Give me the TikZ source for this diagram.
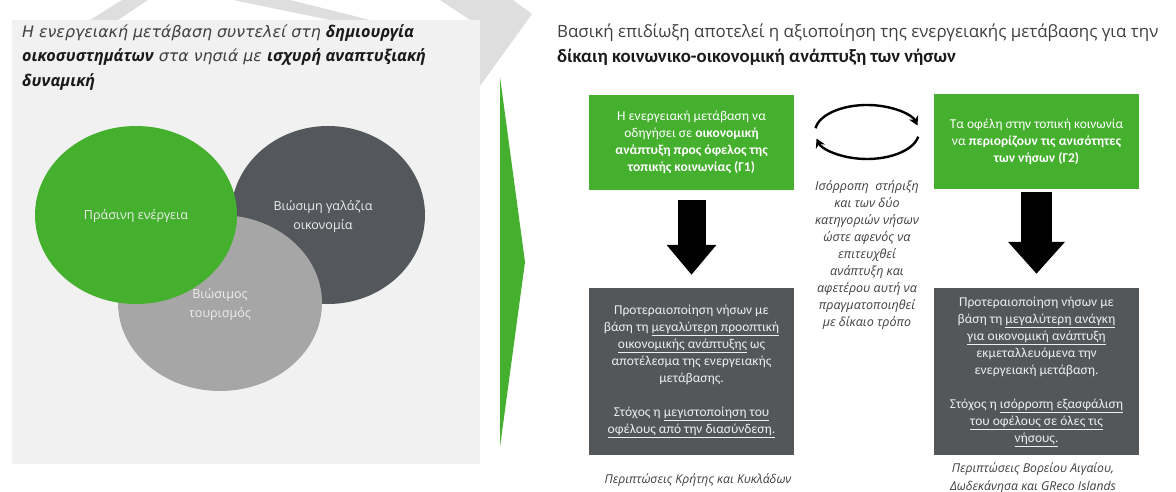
\documentclass[tikz,border=0pt]{standalone}
\usepackage{fontspec}
\setmainfont{Carlito}
\newfontfamily\osans{Open Sans}
\newfontfamily\dvsans{DejaVu Sans}
\usetikzlibrary{arrows.meta,shapes.geometric}
\definecolor{grn}{HTML}{45B02E}
\definecolor{dgray}{HTML}{54575C}
\definecolor{lgray}{HTML}{A6A6A6}
\definecolor{panel}{HTML}{F1F1F1}
\definecolor{wm}{HTML}{DEDEDE}
\definecolor{boxgray}{HTML}{545759}
\definecolor{txtgray}{HTML}{404040}
\definecolor{txtdark}{HTML}{1A1A1A}
\definecolor{lighttxt}{HTML}{EEEEEE}
\newcommand{\lbold}[1]{{\osans\bfseries\itshape\fontsize{16.2}{24.5}\selectfont\color{txtdark}#1}}
\tikzset{
  blob/.style={ellipse, inner sep=0pt, draw=none},
  elabel/.style={font=\osans\fontsize{12.5}{19}\selectfont, text=lighttxt, align=center, inner sep=0pt},
  gbox/.style={fill=grn, minimum width=205pt, minimum height=95pt, inner sep=0pt, align=center,
    text=white, font=\fontsize{13.5}{17}\selectfont},
  pbox/.style={fill=boxgray, minimum width=205pt, minimum height=167pt, inner sep=0pt, align=center,
    text=lighttxt, font=\fontsize{13.5}{17}\selectfont},
  blockarrow/.style={line width=28pt, -{Triangle[length=30pt,width=48pt]}},
  cyclearrow/.style={line width=2.4pt, -{Stealth[length=9pt,width=10pt]}},
  midtext/.style={font=\osans\itshape\fontsize{12.5}{17}\selectfont, text=txtgray, align=center, inner sep=0pt},
  caption/.style={font=\osans\itshape\fontsize{12.2}{18.5}\selectfont, text=txtgray, align=center, inner sep=0pt},
}
\begin{document}
\begin{tikzpicture}[x=1pt,y=-1pt]
\useasboundingbox (0,0) rectangle (1176,492);
\fill[white] (0,0) rectangle (1176,492);
% watermark
\fill[wm] (90,20) -- (122,0) -- (148,0) -- (118,20) -- cycle;
\fill[wm] (233,0) -- (290,0) -- (370,20) -- (330,20) -- cycle;
\fill[wm] (440,0) -- (513,0) -- (532,14) -- (480,86) -- (470,20) -- cycle;
% left panel
\fill[panel] (12,20) rectangle (480,464);
\node[anchor=north west, inner sep=0pt, align=left, text=txtgray,
  font=\dvsans\itshape\fontsize{15.8}{24.5}\selectfont] (ltitle) at (22,24)
  {Η ενεργειακή μετάβαση συντελεί στη \lbold{δημιουργία}\\
   \lbold{οικοσυστημάτων} στα νησιά με \lbold{ισχυρή αναπτυξιακή}\\
   \lbold{δυναμική}};
% ellipses
\node[blob, fill=dgray, minimum width=194pt, minimum height=178pt] (blue) at (328,215) {};
\node[blob, fill=lgray, minimum width=204pt, minimum height=176pt] (tour) at (220,303) {};
\node[blob, fill=grn, minimum width=202pt, minimum height=178pt] (green) at (136,215) {};
\node[elabel] (tgreen) at (136,216) {Πράσινη ενέργεια};
\node[elabel] (tblue) at (323,216) {Βιώσιμη γαλάζια\\οικονομία};
\node[elabel] (ttour) at (220,304) {Βιώσιμος\\τουρισμός};
% chevron
\fill[grn] (500,77) -- (525,262) -- (500,447) -- cycle;
% right title
\node[anchor=north west, inner sep=0pt, align=left, text=txtgray,
  font=\osans\fontsize{16.9}{24.5}\selectfont] (rtitle) at (557,24)
  {Βασική επιδίωξη αποτελεί η αξιοποίηση της ενεργειακής μετάβασης για την\\
   \textcolor{txtdark}{\rmfamily\fontsize{18.8}{24.5}\selectfont\textbf{δίκαιη κοινωνικο-οικονομική ανάπτυξη των νήσων}}};
% boxes
\node[gbox] (g1) at (691.5,142.5)
  {Η ενεργειακή μετάβαση να\\ οδηγήσει σε \textbf{οικονομική}\\
   \textbf{ανάπτυξη προς όφελος της}\\ \textbf{τοπικής κοινωνίας (Γ1)}};
\node[gbox] (g2) at (1036.5,141.5)
  {Τα οφέλη στην τοπική κοινωνία\\ να \textbf{περιορίζουν τις ανισότητες}\\
   \textbf{των νήσων (Γ2)}};
\node[pbox] (p1) at (691.5,371.5)
  {Προτεραιοποίηση νήσων με\\ βάση τη \underline{μεγαλύτερη προοπτική}\\
   \underline{οικονομικής ανάπτυξης} ως\\ αποτέλεσμα της ενεργειακής\\ μετάβασης.\\[17pt]
   Στόχος η \underline{μεγιστοποίηση του}\\ \underline{οφέλους από την διασύνδεση.}};
\node[pbox] (p2) at (1036.5,371.5)
  {Προτεραιοποίηση νήσων με\\ βάση τη \underline{μεγαλύτερη ανάγκη}\\
   \underline{για οικονομική ανάπτυξη}\\ εκμεταλλευόμενα την\\ ενεργειακή μετάβαση.\\[17pt]
   Στόχος η \underline{ισόρροπη εξασφάλιση}\\ \underline{του οφέλους σε όλες τις}\\ \underline{νήσους.}};
% block arrows
\draw[blockarrow] ([yshift=-10pt]g1.south) -- ([yshift=13pt]p1.north);
\draw[blockarrow, line width=31pt, -{Triangle[length=32pt,width=55pt]}] ([yshift=-3pt]g2.south) -- ([yshift=14pt]p2.north);
% cycle arrows
\coordinate (cyc) at (867,132);
\draw[cyclearrow] (cyc) ++(172:52pt and 27pt) arc[start angle=172, end angle=14, x radius=52pt, y radius=27pt];
\draw[cyclearrow] (cyc) ++(-10:52pt and 27pt) arc[start angle=-10, end angle=-166, x radius=52pt, y radius=27pt];
% middle text
\node[midtext] (mid) at (867,254.5)
  {Ισόρροπη\ \ στήριξη\\ και των δύο\\ κατηγοριών νήσων\\ ώστε αφενός να\\ επιτευχθεί\\
   ανάπτυξη και\\ αφετέρου αυτή να\\ πραγματοποιηθεί\\ με δίκαιο τρόπο};
% captions
\node[caption, anchor=north] (c1) at (698,473) {Περιπτώσεις Κρήτης και Κυκλάδων};
\node[caption, anchor=north] (c2) at (1033,462) {Περιπτώσεις Βορείου Αιγαίου,\\ Δωδεκάνησα και GReco Islands};
\end{tikzpicture}
\end{document}
